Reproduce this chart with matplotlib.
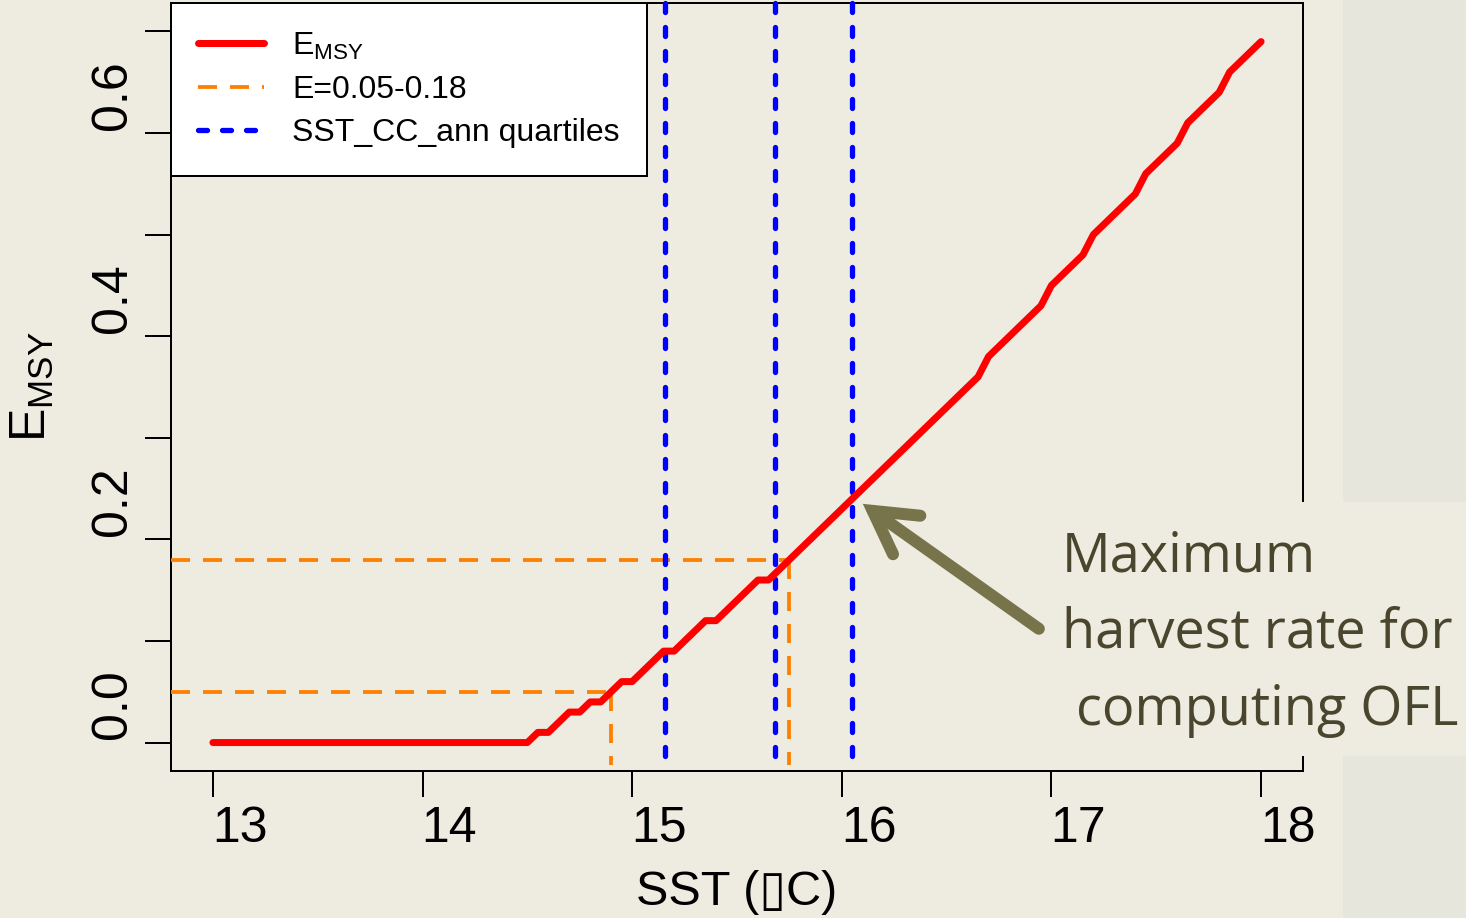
import matplotlib
matplotlib.use("Agg")
import matplotlib.pyplot as plt
import matplotlib.transforms as mtransforms
from matplotlib.patches import Rectangle

# E_MSY as a function of sea surface temperature
sst = [13.00, 14.50, 14.55, 14.60, 14.65, 14.70, 14.75, 14.80, 14.85, 14.90,
       14.95, 15.00, 15.05, 15.10, 15.15, 15.20, 15.25, 15.30, 15.35, 15.40,
       15.45, 15.50, 15.55, 15.60, 15.65, 15.70, 15.75, 15.80, 15.85, 15.90,
       15.95, 16.00, 16.05, 16.10, 16.15, 16.20, 16.25, 16.30, 16.35, 16.40,
       16.45, 16.50, 16.55, 16.60, 16.65, 16.70, 16.75, 16.80, 16.85, 16.90,
       16.95, 17.00, 17.05, 17.10, 17.15, 17.20, 17.25, 17.30, 17.35, 17.40,
       17.45, 17.50, 17.55, 17.60, 17.65, 17.70, 17.75, 17.80, 17.85, 17.90,
       17.95, 18.00]
emsy = [0.00, 0.00, 0.01, 0.01, 0.02, 0.03, 0.03, 0.04, 0.04, 0.05,
        0.06, 0.06, 0.07, 0.08, 0.09, 0.09, 0.10, 0.11, 0.12, 0.12,
        0.13, 0.14, 0.15, 0.16, 0.16, 0.17, 0.18, 0.19, 0.20, 0.21,
        0.22, 0.23, 0.24, 0.25, 0.26, 0.27, 0.28, 0.29, 0.30, 0.31,
        0.32, 0.33, 0.34, 0.35, 0.36, 0.38, 0.39, 0.40, 0.41, 0.42,
        0.43, 0.45, 0.46, 0.47, 0.48, 0.50, 0.51, 0.52, 0.53, 0.54,
        0.56, 0.57, 0.58, 0.59, 0.61, 0.62, 0.63, 0.64, 0.66, 0.67,
        0.68, 0.69]

# harvest-rate band and the SST at which E_MSY reaches each end
band_e = [0.05, 0.18]
band_sst = [14.90, 15.75]

# quartiles of annual SST (SST_CC_ann)
sst_quartiles = [15.157, 15.681, 16.048]

x_ticks = [13, 14, 15, 16, 17, 18]
y_ticks = [0.0, 0.1, 0.2, 0.3, 0.4, 0.5, 0.6, 0.7]
y_tick_labels = ["0.0", "", "0.2", "", "0.4", "", "0.6", ""]

BG = "#EEEBE1"
STRIP = "#E7E6DC"
plt.rcParams["font.family"] = ["Liberation Sans", "DejaVu Sans"]
plt.rcParams["mathtext.fontset"] = "custom"
plt.rcParams["mathtext.rm"] = "Liberation Sans"
plt.rcParams["lines.scale_dashes"] = False

W, H, DPI = 1466, 918, 100
fig = plt.figure(figsize=(W / DPI, H / DPI), dpi=DPI, facecolor=BG)
ax = fig.add_axes([171 / W, 1 - 771 / H, (1303 - 171) / W, (771 - 3) / H])
ax.set_facecolor("none")
ax.set_xlim(12.8, 18.2)
ax.set_ylim(-0.028, 0.728)

px = 0.72  # points per pixel

# E_MSY curve
ax.plot(sst, emsy, color="#FF0000", lw=7 * px, solid_capstyle="round",
        solid_joinstyle="round", zorder=4, label="E$_{\\mathregular{MSY}}$")

# harvest-rate band guides
orange_dash = (0, (19 * px, 13 * px))
for i, (e, s) in enumerate(zip(band_e, band_sst)):
    ax.plot([12.8, s], [e, e], color="#FF8000", lw=3.8 * px, linestyle=orange_dash,
            zorder=3, label="E=0.05-0.18" if i == 0 else None)
    ax.plot([s, s], [e, -0.022], color="#FF8000", lw=3.8 * px, linestyle=orange_dash,
            zorder=3)

# SST quartiles, drawn top to bottom across the full panel height
blue_dot = (0, (9 * px, 15 * px))
xtrans = ax.get_xaxis_transform()
for i, q in enumerate(sst_quartiles):
    ax.plot([q, q], [1, 0], transform=xtrans, color="#0000FF", lw=5.3 * px,
            linestyle=blue_dot, dash_capstyle="round", zorder=3, clip_on=False,
            label="SST_CC_ann quartiles" if i == 0 else None)

# axes styling
for sp in ax.spines.values():
    sp.set_linewidth(2 * px)
    sp.set_color("black")
ax.set_xticks(x_ticks)
ax.set_xticklabels([str(t) for t in x_ticks])
ax.set_yticks(y_ticks)
ax.set_yticklabels(y_tick_labels, rotation=90, va="center")
ax.tick_params(axis="both", length=19, width=2 * px, direction="out",
               labelsize=36, colors="black")
ax.tick_params(axis="x", pad=6)
ax.tick_params(axis="y", pad=6)
for lab in ax.get_xticklabels():
    lab.set_transform(lab.get_transform() +
                      mtransforms.ScaledTranslation(27 / DPI, 0, fig.dpi_scale_trans))
for lab in ax.get_yticklabels():
    lab.set_transform(lab.get_transform() +
                      mtransforms.ScaledTranslation(0, 38 / DPI, fig.dpi_scale_trans))

ax.set_xlabel("SST (\u25afC)", fontsize=35, labelpad=13,
              family=["Liberation Sans", "DejaVu Sans"])
ax.set_ylabel("E$_{\\mathregular{MSY}}$", fontsize=36, labelpad=25)

leg = ax.legend(loc="upper left", bbox_to_anchor=(0, 1), borderaxespad=0,
                fontsize=23, frameon=True, fancybox=False, framealpha=1,
                facecolor="white", edgecolor="black", handlelength=2.05,
                handletextpad=0.9, borderpad=0.85, labelspacing=0.42)
leg.get_frame().set_linewidth(2 * px)

# side strip and label panel
fig.patches.append(Rectangle((1343 / W, 0), 1 - 1343 / W, 1, transform=fig.transFigure,
                             facecolor=STRIP, edgecolor="none", zorder=0.9))
fig.patches.append(Rectangle((1298 / W, 1 - 756 / H), 1 - 1298 / W, (756 - 502) / H,
                             transform=fig.transFigure, facecolor=BG,
                             edgecolor="none", zorder=1))

# callout arrow and text
ax.annotate("", xy=(16.10, 0.235), xytext=(16.94, 0.112),
            arrowprops=dict(arrowstyle="->,head_length=0.30,head_width=0.17",
                            mutation_scale=100, lw=12 * px, color="#77734A",
                            capstyle="round", joinstyle="miter",
                            shrinkA=0, shrinkB=0), zorder=5)
callout = ["Maximum", "harvest rate for", " computing OFL"]
baselines = [572, 647, 725]
for line, yb in zip(callout, baselines):
    fig.text(1062 / W, 1 - yb / H, line, fontsize=39, family="Open Sans",
             color="#4A452D", ha="left", va="baseline", zorder=2)

fig.savefig("out.png", dpi=DPI, facecolor=BG)
